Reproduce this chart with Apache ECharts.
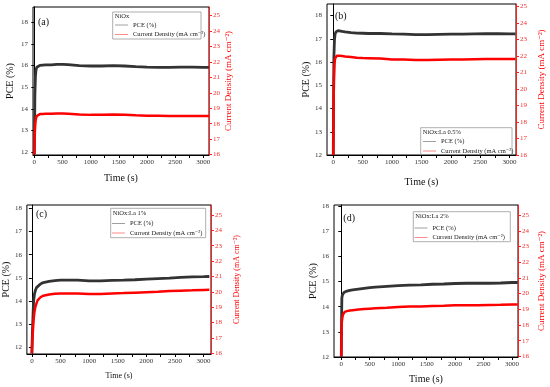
<!DOCTYPE html>
<html><head><meta charset="utf-8">
<script src="https://cdn.jsdelivr.net/npm/echarts@6/dist/echarts.min.js"></script>
<style>html,body{margin:0;padding:0;background:#fff}#c{width:550px;height:387px}</style>
</head><body><div id="c"></div>
<script>
const FONT = '"Liberation Serif", "DejaVu Serif", serif';

// ---- data (time in s) ----
const time = [0, 5, 10, 20, 30, 45, 60, 80, 100, 150, 200, 300, 400, 500, 600, 800, 1000, 1200, 1400, 1600, 1800, 2000, 2200, 2400, 2600, 2800, 3000, 3100];

const pceA = [11.9, 13.0, 14.6, 15.5, 15.8, 15.92, 15.98, 16.0, 16.01, 16.02, 16.03, 16.03, 16.05, 16.05, 16.04, 16.0, 15.98, 15.98, 16.0, 15.98, 15.95, 15.93, 15.92, 15.92, 15.93, 15.93, 15.92, 15.92];
const jA   = [16.0, 16.8, 17.5, 18.1, 18.35, 18.5, 18.57, 18.6, 18.62, 18.63, 18.64, 18.65, 18.66, 18.66, 18.64, 18.6, 18.57, 18.58, 18.6, 18.58, 18.54, 18.52, 18.51, 18.5, 18.5, 18.5, 18.49, 18.49];

const pceB = [12.0, 14.5, 16.2, 16.95, 17.2, 17.3, 17.34, 17.35, 17.34, 17.32, 17.3, 17.27, 17.25, 17.24, 17.23, 17.23, 17.21, 17.2, 17.18, 17.18, 17.19, 17.2, 17.2, 17.21, 17.22, 17.22, 17.21, 17.21];
const jB   = [16.0, 18.5, 20.5, 21.5, 21.85, 21.97, 22.02, 22.03, 22.02, 22.0, 21.97, 21.94, 21.9, 21.88, 21.87, 21.85, 21.8, 21.79, 21.76, 21.76, 21.78, 21.8, 21.8, 21.81, 21.82, 21.82, 21.82, 21.82];

const pceC = [11.75, 12.2, 12.7, 13.4, 14.0, 14.3, 14.45, 14.58, 14.65, 14.74, 14.8, 14.85, 14.88, 14.9, 14.9, 14.9, 14.87, 14.87, 14.89, 14.9, 14.92, 14.95, 14.97, 14.99, 15.02, 15.04, 15.05, 15.06];
const jC   = [16.0, 16.6, 17.0, 17.6, 18.2, 18.7, 19.0, 19.25, 19.45, 19.65, 19.75, 19.83, 19.88, 19.9, 19.9, 19.9, 19.87, 19.87, 19.9, 19.92, 19.95, 19.98, 20.01, 20.05, 20.08, 20.1, 20.13, 20.14];

const pceD = [12.0, 13.5, 14.35, 14.46, 14.52, 14.56, 14.58, 14.6, 14.62, 14.65, 14.67, 14.7, 14.73, 14.76, 14.78, 14.81, 14.84, 14.86, 14.87, 14.89, 14.9, 14.92, 14.93, 14.93, 14.93, 14.94, 14.96, 14.96];
const jD   = [16.0, 17.5, 18.2, 18.5, 18.66, 18.76, 18.83, 18.86, 18.88, 18.92, 18.94, 18.98, 19.01, 19.04, 19.06, 19.1, 19.15, 19.17, 19.18, 19.2, 19.22, 19.25, 19.26, 19.26, 19.27, 19.28, 19.3, 19.3];

// ---- ticks / labels ----
const xTicks  = [0, 250, 500, 750, 1000, 1250, 1500, 1750, 2000, 2250, 2500, 2750, 3000];
const xLabels = [0, 500, 1000, 1500, 2000, 2500, 3000];
const pceTicks = [12, 13, 14, 15, 16, 17, 18];
const jTicks = [16, 17, 18, 19, 20, 21, 22, 23, 24, 25];

const panelLabels = ['(a)', '(b)', '(c)', '(d)'];
const legendTitles = ['NiOx', 'NiOx:La 0.5%', 'NiOx:La 1%', 'NiOx:La 2%'];
const pceName = 'PCE (%)';
const jName = 'Current Density (mA cm\u207B\u00B2)';
const xName = 'Time (s)';
const pceSets = [pceA, pceB, pceC, pceD];
const jSets = [jA, jB, jC, jD];

// ---- layout (pixels) ----
const layout = [
  {grid:{left:33, top:7, width:176, height:148}, x:[-23,3101], yl:[11.86,18.71], yr:[15.97,25.56],
   gl:18, gr:15, gx:18, fr:9, fx:10, lab:[38,22.7], box:[112.7,12,88.3,27], leg:[115,21]},
  {grid:{left:327, top:4, width:189, height:151}, x:[-107,3109], yl:[12,18.5], yr:[16,25.16],
   gl:13.7, gr:21.5, gx:22, fr:9, fx:10, lab:[335,16], box:[420.7,127.7,91.3,27.6], leg:[423,137.5]},
  {grid:{left:26, top:205, width:185, height:149}, x:[-87,3129], yl:[11.72,18.14], yr:[15.96,25.65],
   gl:14, gr:21.8, gx:17.7, fr:8, fx:8, lab:[36,214], box:[110.7,208.3,95,29.4], leg:[112,219.5]},
  {grid:{left:334, top:205, width:184, height:152}, x:[-128,3105], yl:[12,18.04], yr:[15.96,25.64],
   gl:12, gr:19, gx:17.3, fr:9, fx:10, lab:[343.3,218.3], box:[413.3,211.7,97,30], leg:[414.5,224]}
];

const grids = [], xAxes = [], yAxes = [], series = [], legends = [], graphics = [];
layout.forEach((L, i) => {
  grids.push(Object.assign({show:true, borderColor:'#000', borderWidth:1, containLabel:false}, L.grid));
  xAxes.push({
    type:'value', gridIndex:i, min:L.x[0], max:L.x[1],
    name:xName, nameLocation:'middle', nameGap:L.gx,
    nameTextStyle:{fontFamily:FONT, fontSize:L.fx, color:'#111'},
    axisLine:{show:true, lineStyle:{color:'#000', width:1}},
    axisTick:{show:true, inside:false, length:3, customValues:xTicks, lineStyle:{color:'#000'}},
    axisLabel:{customValues:xLabels, formatter:(v)=>String(v), fontFamily:FONT, fontSize:7, color:'#333', margin:4},
    splitLine:{show:false}
  });
  yAxes.push({
    type:'value', gridIndex:i, position:'left', min:L.yl[0], max:L.yl[1],
    name:pceName, nameLocation:'middle', nameGap:L.gl,
    nameTextStyle:{fontFamily:FONT, fontSize:10, color:'#111'},
    axisLine:{show:true, lineStyle:{color:'#000', width:1}},
    axisTick:{show:true, inside:false, length:3, customValues:pceTicks, lineStyle:{color:'#000'}},
    axisLabel:{customValues:pceTicks, formatter:(v)=>String(v), fontFamily:FONT, fontSize:7, color:'#333', margin:5},
    splitLine:{show:false}
  });
  yAxes.push({
    type:'value', gridIndex:i, position:'right', min:L.yr[0], max:L.yr[1],
    name:jName, nameLocation:'middle', nameGap:L.gr,
    nameTextStyle:{fontFamily:FONT, fontSize:L.fr, color:'#ff0000'},
    axisLine:{show:true, lineStyle:{color:'#ff2020', width:1}},
    axisTick:{show:true, inside:false, length:3, customValues:jTicks, lineStyle:{color:'#ff2020'}},
    axisLabel:{customValues:jTicks, formatter:(v)=>String(v), fontFamily:FONT, fontSize:7, color:'#f03030', margin:4},
    splitLine:{show:false}
  });
  series.push({
    name:pceName, type:'line', xAxisIndex:i, yAxisIndex:2*i, showSymbol:false, symbol:'none',
    data: time.map((t,k)=>[t, pceSets[i][k]]), lineStyle:{color:'#333', width:2.8}, itemStyle:{color:'#333'},
    animation:false, clip:true
  });
  series.push({
    name:jName, type:'line', xAxisIndex:i, yAxisIndex:2*i+1, showSymbol:false, symbol:'none',
    data: time.map((t,k)=>[t, jSets[i][k]]), lineStyle:{color:'#ff0000', width:2.5}, itemStyle:{color:'#ff0000'},
    animation:false, clip:true
  });
  legends.push({
    left:L.leg[0], top:L.leg[1], orient:'vertical', icon:'rect', itemWidth:13, itemHeight:1, itemGap:1.5,
    padding:0, selectedMode:false,
    itemStyle:{borderWidth:0},
    textStyle:{fontFamily:FONT, fontSize:6.5, color:'#222', lineHeight:8},
    data:[{name:pceName, itemStyle:{color:'#a0a0a0', borderWidth:0}, lineStyle:{color:'#a0a0a0'}},
          {name:jName, itemStyle:{color:'#ff8a8a', borderWidth:0}, lineStyle:{color:'#ff8a8a'}}]
  });
  graphics.push({type:'rect', shape:{x:L.box[0], y:L.box[1], width:L.box[2], height:L.box[3]},
    style:{fill:'none', stroke:'#999', lineWidth:0.8}, silent:true});
  graphics.push({type:'text', x:L.box[0]+2, y:L.box[1]+4.5,
    style:{text:legendTitles[i], font:'6.5px ' + FONT, fill:'#222', verticalAlign:'middle'}, silent:true});
  graphics.push({type:'text', x:L.lab[0], y:L.lab[1],
    style:{text:panelLabels[i], font:'10px ' + FONT, fill:'#111', verticalAlign:'middle'}, silent:true});
});

const chart = echarts.init(document.getElementById('c'), null, {renderer:'canvas'});
chart.setOption({
  animation:false, backgroundColor:'#fff',
  grid:grids, xAxis:xAxes, yAxis:yAxes, series:series, legend:legends, graphic:graphics
});
</script></body></html>
